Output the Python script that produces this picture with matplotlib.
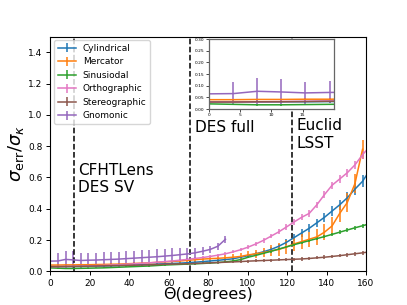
import matplotlib
matplotlib.use("Agg")
import matplotlib.pyplot as plt
import numpy as np

theta = [0.00, 3.86, 7.72, 11.58, 15.44, 19.30, 23.16, 27.02, 30.88, 34.74,
         38.60, 42.46, 46.32, 50.18, 54.04, 57.90, 61.76, 65.62, 69.48, 73.34,
         77.20, 81.06, 84.92, 88.78, 92.64, 96.50, 100.36, 104.22, 108.08, 111.94,
         115.80, 119.66, 123.52, 127.38, 131.24, 135.10, 138.96, 142.82, 146.68, 150.54,
         154.40, 158.26, 162.12]

cyl = [0.030, 0.030, 0.030, 0.031, 0.031, 0.032, 0.033, 0.034, 0.035, 0.036,
       0.038, 0.040, 0.042, 0.044, 0.046, 0.048, 0.050, 0.052, 0.055, 0.058,
       0.062, 0.066, 0.070, 0.075, 0.080, 0.090, 0.100, 0.112, 0.125, 0.140,
       0.160, 0.185, 0.215, 0.245, 0.275, 0.310, 0.345, 0.385, 0.425, 0.470,
       0.525, 0.575, 0.650]
cyl_err = [0.004, 0.004, 0.004, 0.004, 0.004, 0.004, 0.004, 0.004, 0.005, 0.005,
           0.005, 0.005, 0.005, 0.005, 0.006, 0.006, 0.006, 0.006, 0.007, 0.007,
           0.007, 0.008, 0.008, 0.008, 0.009, 0.010, 0.010, 0.012, 0.013, 0.015,
           0.017, 0.019, 0.021, 0.023, 0.025, 0.027, 0.029, 0.031, 0.033, 0.035,
           0.037, 0.039, 0.040]

merc = [0.040, 0.040, 0.041, 0.041, 0.042, 0.042, 0.043, 0.044, 0.045, 0.046,
        0.048, 0.050, 0.052, 0.054, 0.057, 0.060, 0.063, 0.066, 0.070, 0.074,
        0.078, 0.081, 0.083, 0.086, 0.090, 0.095, 0.105, 0.112, 0.120, 0.130,
        0.140, 0.155, 0.175, 0.190, 0.205, 0.220, 0.250, 0.290, 0.370, 0.440,
        0.560, 0.780]
merc_err = [0.004, 0.004, 0.004, 0.004, 0.005, 0.005, 0.005, 0.005, 0.006, 0.006,
            0.006, 0.007, 0.007, 0.008, 0.008, 0.009, 0.010, 0.011, 0.012, 0.013,
            0.014, 0.015, 0.016, 0.017, 0.018, 0.020, 0.022, 0.026, 0.030, 0.035,
            0.040, 0.043, 0.045, 0.047, 0.049, 0.050, 0.052, 0.055, 0.057, 0.058,
            0.060, 0.060]

sinu = [0.022, 0.020, 0.018, 0.018, 0.019, 0.020, 0.021, 0.022, 0.024, 0.026,
        0.028, 0.030, 0.032, 0.034, 0.037, 0.040, 0.042, 0.044, 0.046, 0.048,
        0.050, 0.053, 0.056, 0.060, 0.066, 0.075, 0.090, 0.102, 0.115, 0.128,
        0.142, 0.156, 0.170, 0.183, 0.196, 0.209, 0.222, 0.236, 0.250, 0.264,
        0.278, 0.291, 0.305]
sinu_err = [0.003, 0.003, 0.003, 0.003, 0.003, 0.003, 0.003, 0.003, 0.003, 0.003,
            0.003, 0.003, 0.004, 0.004, 0.004, 0.004, 0.004, 0.004, 0.005, 0.005,
            0.005, 0.005, 0.005, 0.006, 0.006, 0.006, 0.007, 0.007, 0.007, 0.008,
            0.008, 0.008, 0.009, 0.009, 0.009, 0.010, 0.010, 0.010, 0.011, 0.011,
            0.011, 0.012, 0.012]

ortho = [0.030, 0.030, 0.031, 0.032, 0.033, 0.035, 0.036, 0.038, 0.040, 0.042,
         0.045, 0.048, 0.051, 0.054, 0.058, 0.062, 0.066, 0.071, 0.076, 0.082,
         0.088, 0.095, 0.103, 0.112, 0.124, 0.138, 0.155, 0.175, 0.198, 0.225,
         0.252, 0.283, 0.315, 0.345, 0.370, 0.425, 0.490, 0.550, 0.590, 0.630,
         0.680, 0.745, 0.800]
ortho_err = [0.004, 0.004, 0.004, 0.004, 0.004, 0.004, 0.004, 0.004, 0.005, 0.005,
             0.005, 0.005, 0.005, 0.006, 0.006, 0.006, 0.007, 0.007, 0.007, 0.008,
             0.008, 0.009, 0.009, 0.010, 0.010, 0.011, 0.012, 0.013, 0.014, 0.015,
             0.016, 0.017, 0.018, 0.019, 0.020, 0.021, 0.022, 0.023, 0.024, 0.025,
             0.026, 0.027, 0.028]

stereo = [0.030, 0.030, 0.031, 0.031, 0.032, 0.033, 0.034, 0.035, 0.036, 0.037,
          0.038, 0.039, 0.040, 0.041, 0.043, 0.045, 0.046, 0.047, 0.048, 0.050,
          0.052, 0.054, 0.056, 0.058, 0.060, 0.062, 0.065, 0.067, 0.069, 0.071,
          0.073, 0.075, 0.077, 0.079, 0.082, 0.086, 0.090, 0.095, 0.100, 0.106,
          0.112, 0.118, 0.125]
stereo_err = [0.006, 0.006, 0.006, 0.006, 0.006, 0.006, 0.006, 0.006, 0.006, 0.006,
              0.006, 0.006, 0.006, 0.007, 0.007, 0.007, 0.007, 0.007, 0.007, 0.007,
              0.008, 0.008, 0.008, 0.008, 0.008, 0.008, 0.009, 0.009, 0.009, 0.009,
              0.009, 0.010, 0.010, 0.010, 0.010, 0.010, 0.011, 0.011, 0.011, 0.012,
              0.012, 0.012, 0.012]

gnom = [0.065, 0.066, 0.076, 0.073, 0.069, 0.071, 0.072, 0.074, 0.076, 0.078,
        0.081, 0.084, 0.087, 0.090, 0.093, 0.097, 0.101, 0.106, 0.111, 0.118,
        0.128, 0.140, 0.160, 0.205]
gnom_err = [0.045, 0.048, 0.055, 0.055, 0.047, 0.047, 0.048, 0.048, 0.048, 0.048,
            0.048, 0.048, 0.048, 0.048, 0.047, 0.047, 0.046, 0.040, 0.036, 0.030,
            0.026, 0.022, 0.022, 0.022]

series = [
    ("Cylindrical", cyl, cyl_err, "#1f77b4"),
    ("Mercator", merc, merc_err, "#ff7f0e"),
    ("Sinusiodal", sinu, sinu_err, "#2ca02c"),
    ("Orthographic", ortho, ortho_err, "#e377c2"),
    ("Stereographic", stereo, stereo_err, "#8c564b"),
    ("Gnomonic", gnom, gnom_err, "#9467bd"),
]

survey_lines = [12.0, 71.0, 122.5]

fig = plt.figure(figsize=(4.07, 3.05), dpi=100)
ax = fig.add_axes([0.1236, 0.1105, 0.7756, 0.7695])

for name, vals, errs, col in series:
    n = len(vals)
    ax.errorbar(theta[:n], vals, yerr=errs, color=col, lw=1.1, elinewidth=1.1,
                capsize=0, label=name)

for xv in survey_lines:
    ax.axvline(xv, color="black", ls="--", lw=1.1)

ax.set_xlim(0, 160)
ax.set_ylim(0, 1.5)
ax.set_xticks([0, 20, 40, 60, 80, 100, 120, 140, 160])
ax.set_yticks([0.0, 0.2, 0.4, 0.6, 0.8, 1.0, 1.2, 1.4])
ax.tick_params(labelsize=6.5, length=3, width=0.7, pad=2.5)
ax.set_xlabel("Θ(degrees)", fontsize=11.5, labelpad=-0.5)
ax.set_ylabel(r"$\sigma_{\rm err}/\sigma_\kappa$", fontsize=13, labelpad=2)

ax.text(14.0, 0.59, "CFHTLens\nDES SV", fontsize=11, ha="left", va="center")
ax.text(73.3, 0.92, "DES full", fontsize=11, ha="left", va="center")
ax.text(124.9, 0.875, "Euclid\nLSST", fontsize=11, ha="left", va="center")

ax.legend(loc="upper left", fontsize=6.5, framealpha=0.8, borderaxespad=0.4)

ins = fig.add_axes([0.5135, 0.6426, 0.3071, 0.2295])
for name, vals, errs, col in series:
    n = len(vals)
    ins.errorbar(theta[:n], vals, yerr=errs, color=col, lw=1.1, elinewidth=1.1,
                 capsize=0)
ins.set_xlim(0, 20)
ins.set_ylim(0, 0.3)
ins.set_xticks([0, 5, 10, 15])
ins.set_yticks([0.0, 0.05, 0.10, 0.15, 0.20, 0.25, 0.30])
ins.tick_params(labelsize=3.2, length=2, width=0.5, pad=1)
for sp in ins.spines.values():
    sp.set_color("#666666")
    sp.set_linewidth(0.9)

fig.savefig("out.png", dpi=100)
